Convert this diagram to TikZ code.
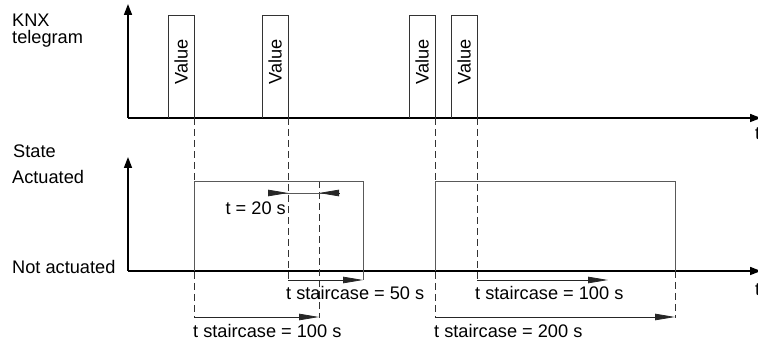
\documentclass[tikz,border=0pt]{standalone}
\usepackage{fontspec}
\setmainfont{Liberation Sans}
\usetikzlibrary{arrows.meta}
\begin{document}
\begin{tikzpicture}[x=1pt,y=-1pt,
 axis/.style={line width=1.6pt,-{Triangle[length=11pt,width=8pt]}},
 pulse/.style={draw=black!80,line width=0.8pt},
 level/.style={draw=black!65,line width=0.9pt},
 guide/.style={draw=black!80,line width=0.8pt,dash pattern=on 7pt off 4pt},
 dim/.style={draw=black!85,line width=0.8pt,-{Triangle[length=20pt,width=6.5pt]}},
 lbl/.style={inner sep=0pt,font=\fontsize{18.2}{21}\selectfont}
]
\useasboundingbox (0,0) rectangle (758,347);
% axes
\coordinate (o1) at (128,118);
\coordinate (y1) at (128,4);
\coordinate (x1) at (761,118);
\coordinate (o2) at (128,271);
\coordinate (y2) at (128,157);
\coordinate (x2) at (761,271);
\draw[axis] (o1) -- (y1);
\draw[axis] (o1) -- (x1);
\draw[axis] (o2) -- (y2);
\draw[axis] (o2) -- (x2);
% pulses
\draw[pulse] (168,118) |- (194,15) -- (194,118);
\draw[pulse] (262,118) |- (288,15) -- (288,118);
\draw[pulse] (409,118) |- (435,15) -- (435,118);
\draw[pulse] (451,118) |- (477,15) -- (477,118);
\node[lbl,rotate=90] (v1) at (181,62) {Value};
\node[lbl,rotate=90] (v2) at (275,62) {Value};
\node[lbl,rotate=90] (v3) at (422,62) {Value};
\node[lbl,rotate=90] (v4) at (464,62) {Value};
% guides
\draw[guide] (194,118) -- (194,318);
\draw[guide] (288,118) -- (288,280);
\draw[guide] (319,181) -- (319,318);
\draw[guide] (435,118) -- (435,318);
\draw[guide] (477,118) -- (477,280);
\draw[guide] (675,271) -- (675,318);
% state levels
\draw[level] (194,271) |- (363,181) -- (363,280);
\draw[level] (435,271) |- (675,181) -- (675,271);
% t = 20 s
\coordinate (a1) at (268,193);
\coordinate (a2) at (288,193);
\coordinate (a3) at (319,193);
\coordinate (a4) at (339,193);
\draw[level] (a1) -- (a4);
\draw[dim] (a1) -- (a2);
\draw[dim] (a4) -- (a3);
% staircase dims
\draw[dim] (288,280) -- (363,280);
\draw[dim] (194,317) -- (319,317);
\draw[dim] (477,280) -- (608,280);
\draw[dim] (435,317) -- (675,317);
% labels
\node[lbl,anchor=base west] (k1) at (12,27) {KNX};
\node[lbl,anchor=base west] (k2) at (12,44) {telegram};
\node[lbl,anchor=base west] (s1) at (13,158) {State};
\node[lbl,anchor=base west] (s2) at (12,184) {Actuated};
\node[lbl,anchor=base west] (s3) at (12,274) {Not actuated};
\node[lbl,anchor=base east] (t20) at (286,215) {t = 20 s};
\node[lbl,anchor=base west] (t50) at (286,300) {t staircase = 50 s};
\node[lbl,anchor=base west] (t100a) at (193,338) {t staircase = 100 s};
\node[lbl,anchor=base west] (t100b) at (475,300) {t staircase = 100 s};
\node[lbl,anchor=base west] (t200) at (434,338) {t staircase = 200 s};
\node[lbl,anchor=base west] (tx1) at (755,140) {t};
\node[lbl,anchor=base west] (tx2) at (755,296) {t};
\end{tikzpicture}
\end{document}
